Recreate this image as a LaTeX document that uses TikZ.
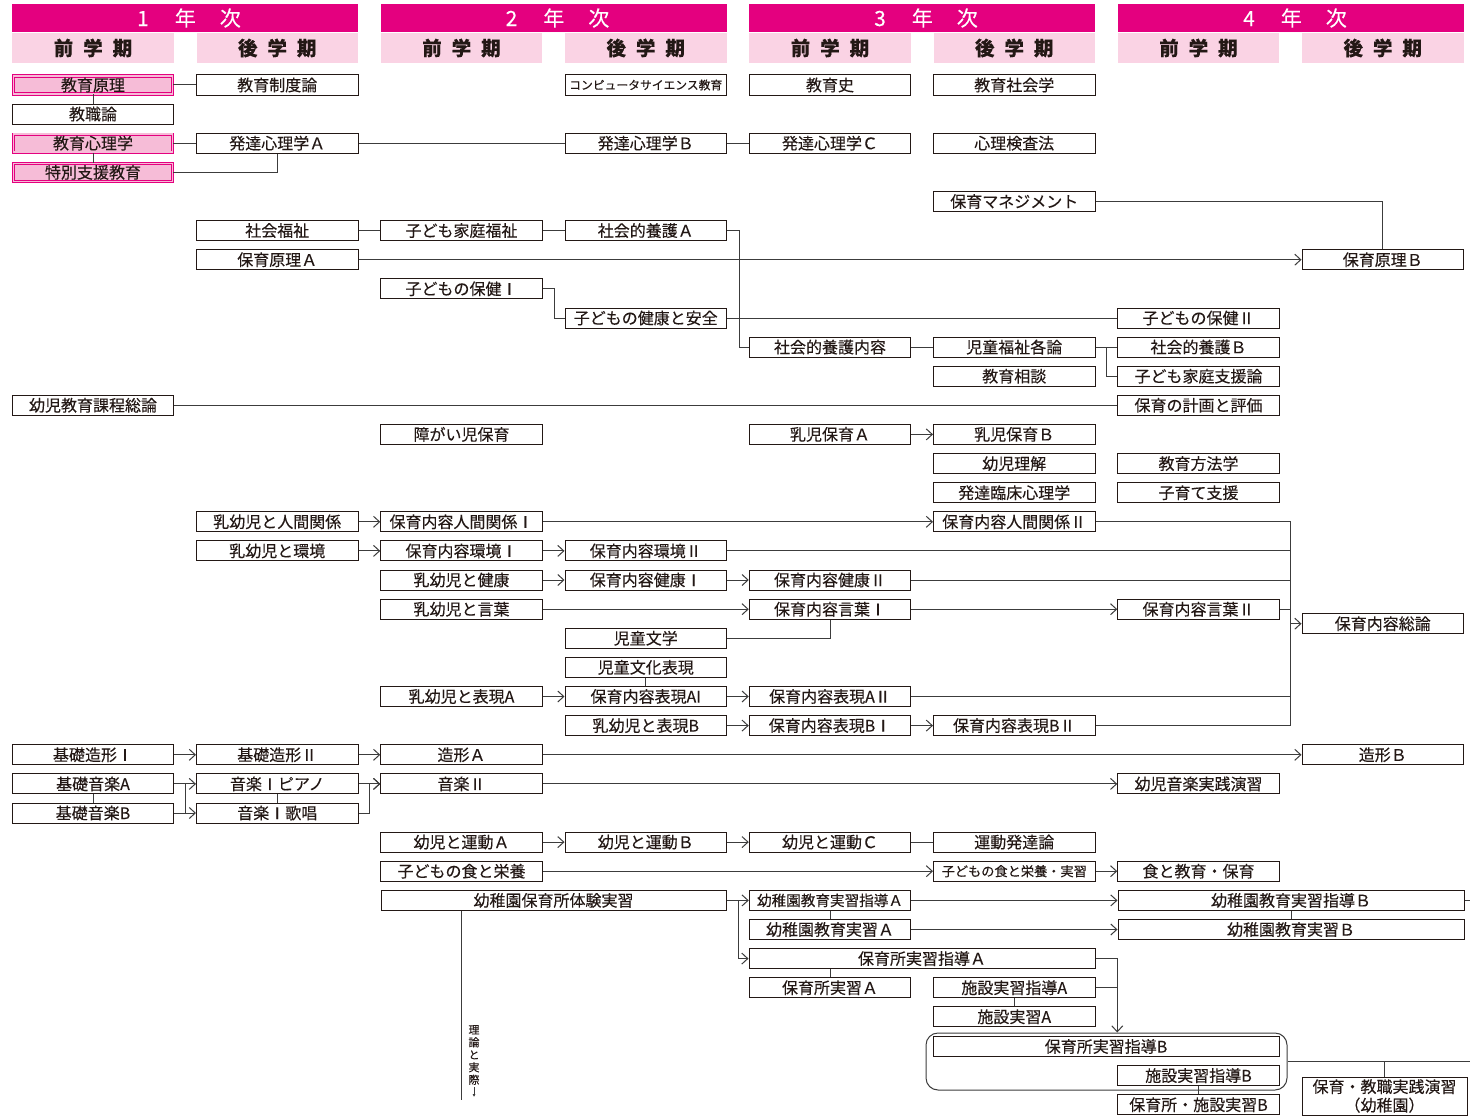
\documentclass[tikz,border=0pt]{standalone}
\usepackage{fontspec}
\setmainfont{Noto Sans CJK JP}[FakeBold=0.2]
\usetikzlibrary{arrows.meta}
\definecolor{mag}{HTML}{E4007F}
\definecolor{lpink}{HTML}{FAD3E4}
\definecolor{bpink}{HTML}{F6BCD7}
\definecolor{ink}{HTML}{231815}
\definecolor{ln}{HTML}{3C3C3C}
\begin{document}
\begin{tikzpicture}[x=1pt,y=-1pt,
  box/.style={draw=ink, line width=1pt, fill=white, minimum width=161.5pt, minimum height=20pt, inner sep=0pt, font=\fontsize{16}{16}\selectfont, text=ink},
  wbox/.style={box, minimum width=#1},
  pbox/.style={box, draw=mag, fill=bpink, double=bpink, double distance=1.6pt, line width=0.8pt, minimum width=159pt, minimum height=18pt},
  cn/.style={draw=ln, line width=1pt},
  ar/.style={cn, -{Straight Barb[length=6pt,width=11pt]}},
  yearbar/.style={fill=mag, minimum width=346pt, minimum height=28pt, inner sep=0pt, text=white, font=\fontsize{21}{22}\selectfont},
  sembar/.style={fill=lpink, minimum width=161.5pt, minimum height=30pt, inner sep=0pt, text=ink, font=\fontsize{19.5}{20}\selectfont\bfseries}
]
\useasboundingbox (0,0) rectangle (1470,1116);
\fill[white] (0,0) rectangle (1470,1116);

% headers
\node[yearbar] (y1) at (185,18) {\hskip 8pt 1\hskip 26pt 年\hskip 24pt 次};
\node[yearbar] (y2) at (553.5,18) {\hskip 8pt 2\hskip 26pt 年\hskip 24pt 次};
\node[yearbar] (y3) at (922,18) {\hskip 8pt 3\hskip 26pt 年\hskip 24pt 次};
\node[yearbar] (y4) at (1291,18) {\hskip 8pt 4\hskip 26pt 年\hskip 24pt 次};
\node[sembar] (s1) at (93,48) {前\hskip 10pt 学\hskip 10pt 期};
\node[sembar] (s2) at (277.25,48) {後\hskip 10pt 学\hskip 10pt 期};
\node[sembar] (s3) at (461.5,48) {前\hskip 10pt 学\hskip 10pt 期};
\node[sembar] (s4) at (645.75,48) {後\hskip 10pt 学\hskip 10pt 期};
\node[sembar] (s5) at (830,48) {前\hskip 10pt 学\hskip 10pt 期};
\node[sembar] (s6) at (1014.25,48) {後\hskip 10pt 学\hskip 10pt 期};
\node[sembar] (s7) at (1198.5,48) {前\hskip 10pt 学\hskip 10pt 期};
\node[sembar] (s8) at (1382.75,48) {後\hskip 10pt 学\hskip 10pt 期};

% rounded group
\node[draw=ln, line width=1pt, rounded corners=12pt, minimum width=361pt, minimum height=57pt, inner sep=0pt] (grp) at (1106.5,1061.5) {};

% boxes
\node[pbox] (kgenri) at (93,85) {教育原理};
\node[box] (seido) at (277.25,85) {教育制度論};
\node[box] (cs) at (645.75,85) {\fontsize{11.8}{12}\selectfont コンピュータサイエンス教育};
\node[box] (kshi) at (830,85) {教育史};
\node[box] (kshakai) at (1014.25,85) {教育社会学};

\node[box] (kyoshoku) at (93,114.1) {教職論};

\node[pbox] (kshinri) at (93,143.2) {教育心理学};
\node[box] (hatA) at (277.25,143.2) {発達心理学Ａ};
\node[box] (hatB) at (645.75,143.2) {発達心理学Ｂ};
\node[box] (hatC) at (830,143.2) {発達心理学Ｃ};
\node[box] (kensa) at (1014.25,143.2) {心理検査法};

\node[pbox] (tokubetsu) at (93,172.4) {特別支援教育};
\node[box] (mgmt) at (1014.25,201.5) {保育マネジメント};

\node[box] (fukushi) at (277.25,230.6) {社会福祉};
\node[box] (kodomokatei) at (461.5,230.6) {子ども家庭福祉};
\node[box] (yogoA) at (645.75,230.6) {社会的養護Ａ};

\node[box] (genriA) at (277.25,259.7) {保育原理Ａ};
\node[box] (genriB) at (1382.75,259.7) {保育原理Ｂ};

\node[box] (hokenI) at (461.5,288.8) {子どもの保健Ⅰ};
\node[box] (anzen) at (645.75,318) {子どもの健康と安全};
\node[box] (hokenII) at (1198.5,318) {子どもの保健Ⅱ};

\node[box] (yogoN) at (830,347.1) {社会的養護内容};
\node[box] (kakuron) at (1014.25,347.1) {児童福祉各論};
\node[box] (yogoB) at (1198.5,347.1) {社会的養護Ｂ};

\node[box] (soudan) at (1014.25,376.2) {教育相談};
\node[box] (shien) at (1198.5,376.2) {子ども家庭支援論};

\node[box] (katei) at (93,405.3) {幼児教育課程総論};
\node[box] (keikaku) at (1198.5,405.3) {保育の計画と評価};

\node[box] (shogai) at (461.5,434.4) {障がい児保育};
\node[box] (nyujiA) at (830,434.4) {乳児保育Ａ};
\node[box] (nyujiB) at (1014.25,434.4) {乳児保育Ｂ};

\node[box] (rikai) at (1014.25,463.6) {幼児理解};
\node[box] (houhou) at (1198.5,463.6) {教育方法学};
\node[box] (rinsho) at (1014.25,492.7) {発達臨床心理学};
\node[box] (kosodate) at (1198.5,492.7) {子育て支援};

\node[box] (nyuNin) at (277.25,521.8) {乳幼児と人間関係};
\node[box] (ninI) at (461.5,521.8) {保育内容人間関係Ⅰ};
\node[box] (ninII) at (1014.25,521.8) {保育内容人間関係Ⅱ};

\node[box] (nyuKan) at (277.25,550.9) {乳幼児と環境};
\node[box] (kanI) at (461.5,550.9) {保育内容環境Ⅰ};
\node[box] (kanII) at (645.75,550.9) {保育内容環境Ⅱ};

\node[box] (nyuKen) at (461.5,580) {乳幼児と健康};
\node[box] (kenI) at (645.75,580) {保育内容健康Ⅰ};
\node[box] (kenII) at (830,580) {保育内容健康Ⅱ};

\node[box] (nyuKot) at (461.5,609.2) {乳幼児と言葉};
\node[box] (kotI) at (830,609.2) {保育内容言葉Ⅰ};
\node[box] (kotII) at (1198.5,609.2) {保育内容言葉Ⅱ};
\node[box] (souron) at (1382.75,623.7) {保育内容総論};

\node[box] (bungaku) at (645.75,638.3) {児童文学};
\node[box] (bunka) at (645.75,667.4) {児童文化表現};

\node[box] (nyuHyoA) at (461.5,696.5) {乳幼児と表現A};
\node[box] (hyoAI) at (645.75,696.5) {保育内容表現AI};
\node[box] (hyoAII) at (830,696.5) {保育内容表現AⅡ};

\node[box] (nyuHyoB) at (645.75,725.6) {乳幼児と表現B};
\node[box] (hyoBI) at (830,725.6) {保育内容表現BⅠ};
\node[box] (hyoBII) at (1014.25,725.6) {保育内容表現BⅡ};

\node[box] (zokeiI) at (93,754.8) {基礎造形Ⅰ};
\node[box] (zokeiII) at (277.25,754.8) {基礎造形Ⅱ};
\node[box] (zokeiA) at (461.5,754.8) {造形Ａ};
\node[box] (zokeiB) at (1382.75,754.8) {造形Ｂ};

\node[box] (onA) at (93,783.9) {基礎音楽A};
\node[box] (piano) at (277.25,783.9) {音楽Ⅰピアノ};
\node[box] (onII) at (461.5,783.9) {音楽Ⅱ};
\node[box] (jissenOn) at (1198.5,783.9) {幼児音楽実践演習};

\node[box] (onB) at (93,813) {基礎音楽B};
\node[box] (kashou) at (277.25,813) {音楽Ⅰ歌唱};

\node[box] (undoA) at (461.5,842.1) {幼児と運動Ａ};
\node[box] (undoB) at (645.75,842.1) {幼児と運動Ｂ};
\node[box] (undoC) at (830,842.1) {幼児と運動Ｃ};
\node[box] (undoH) at (1014.25,842.1) {運動発達論};

\node[box] (shoku) at (461.5,871.2) {子どもの食と栄養};
\node[box] (shokuJ) at (1014.25,871.2) {\fontsize{13.2}{13}\selectfont 子どもの食と栄養・実習};
\node[box] (shokuK) at (1198.5,871.2) {食と教育・保育};

\node[wbox=345pt] (taiken) at (553.5,900.4) {幼稚園保育所体験実習};
\node[box] (kshidouA) at (830,900.4) {\fontsize{14.6}{15}\selectfont 幼稚園教育実習指導Ａ};
\node[wbox=346pt] (kshidouB) at (1291,900.4) {幼稚園教育実習指導Ｂ};

\node[box] (kjisshuA) at (830,929.5) {幼稚園教育実習Ａ};
\node[wbox=346pt] (kjisshuB) at (1291,929.5) {幼稚園教育実習Ｂ};

\node[wbox=346pt] (hshidouA) at (922,958.6) {保育所実習指導Ａ};
\node[box] (hjisshuA) at (830,987.7) {保育所実習Ａ};
\node[box] (sshidouA) at (1014.25,987.7) {施設実習指導A};
\node[box] (sjisshuA) at (1014.25,1016.8) {施設実習A};

\node[wbox=346pt] (hshidouB) at (1106,1046.5) {保育所実習指導B};
\node[box] (sshidouB) at (1198.5,1075.6) {施設実習指導B};
\node[box] (hsjisshuB) at (1198.5,1104.7) {保育所・施設実習B};
\node[box, minimum width=165pt, minimum height=38pt, align=center, font=\fontsize{16}{18.5}\selectfont] (jissen) at (1384.5,1096) {保育・教職実践演習\\（幼稚園）};

\node[inner sep=0pt, align=center, text=ink, font=\fontsize{11}{12.5}\selectfont] (riron) at (474,1055) {理\\論\\と\\実\\際};

% connectors
\draw[cn] (kgenri.east) -- (seido.west);
\draw[cn] (kgenri.south) -- (kyoshoku.north);
\draw[cn] (kshinri.east) -- (hatA.west);
\draw[cn] (kshinri.south) -- (tokubetsu.north);
\draw[cn] (tokubetsu.east) -| (hatA.south);
\draw[cn] (hatA.east) -- (hatB.west);
\draw[cn] (hatB.east) -- (hatC.west);
\draw[cn] (mgmt.east) -| (genriB.north);
\draw[cn] (fukushi.east) -- (kodomokatei.west);
\draw[cn] (kodomokatei.east) -- (yogoA.west);
\draw[cn] (yogoA.east) -- ++(12,0) |- (yogoN.west);
\draw[ar] (genriA.east) -- (genriB.west);
\draw[cn] (hokenI.east) -- ++(12,0) |- (anzen.west);
\draw[cn] (anzen.east) -- (hokenII.west);
\draw[cn] (yogoN.east) -- (kakuron.west);
\draw[cn] (kakuron.east) -- (yogoB.west);
\draw[cn] (kakuron.east) -- ++(11,0) |- (shien.west);
\draw[cn] (katei.east) -- (keikaku.west);
\draw[ar] (nyujiA.east) -- (nyujiB.west);

\draw[ar] (nyuNin.east) -- (ninI.west);
\draw[ar] (ninI.east) -- (ninII.west);
\draw[ar] (nyuKan.east) -- (kanI.west);
\draw[ar] (kanI.east) -- (kanII.west);
\draw[ar] (nyuKen.east) -- (kenI.west);
\draw[ar] (kenI.east) -- (kenII.west);
\draw[ar] (nyuKot.east) -- (kotI.west);
\draw[ar] (kotI.east) -- (kotII.west);
\draw[cn] (bungaku.east) -| (kotI.south);
\draw[cn] (bunka.south) -- (hyoAI.north);
\draw[ar] (nyuHyoA.east) -- (hyoAI.west);
\draw[ar] (hyoAI.east) -- (hyoAII.west);
\draw[ar] (nyuHyoB.east) -- (hyoBI.west);
\draw[ar] (hyoBI.east) -- (hyoBII.west);

\coordinate (busT) at (1290.5,521.8);
\coordinate (busB) at (1290.5,725.6);
\draw[cn] (ninII.east) -- (busT) -- (busB) -- (hyoBII.east);
\draw[cn] (kanII.east) -- (kanII.east -| busT);
\draw[cn] (kenII.east) -- (kenII.east -| busT);
\draw[cn] (kotII.east) -- (kotII.east -| busT);
\draw[cn] (hyoAII.east) -- (hyoAII.east -| busT);
\draw[ar] (souron.west -| busT) -- (souron.west);

\draw[ar] (zokeiI.east) -- (zokeiII.west);
\draw[ar] (zokeiII.east) -- (zokeiA.west);
\draw[ar] (zokeiA.east) -- (zokeiB.west);
\draw[cn] (onA.south) -- (onB.north);
\draw[ar] (onA.east) -- (piano.west);
\draw[ar] (onB.east) -- (kashou.west);
\draw[cn] (onA.east) ++(11,0) -- ++(0,29.1);
\draw[cn] (piano.south) -- (kashou.north);
\draw[ar] (piano.east) -- (onII.west);
\draw[ar] (kashou.east) -- ++(11,0) |- (onII.west);
\draw[ar] (onII.east) -- (jissenOn.west);

\draw[ar] (undoA.east) -- (undoB.west);
\draw[ar] (undoB.east) -- (undoC.west);
\draw[cn] (undoC.east) -- (undoH.west);
\draw[ar] (shoku.east) -- (shokuJ.west);
\draw[ar] (shokuJ.east) -- (shokuK.west);

\draw[ar] (taiken.east) -- (kshidouA.west);
\draw[ar] (taiken.east) -- ++(12,0) |- (hshidouA.west);
\draw[cn] (kshidouA.south) -- (kjisshuA.north);
\draw[ar] (kshidouA.east) -- (kshidouB.west);
\draw[ar] (kjisshuA.east) -- (kjisshuB.west);
\draw[cn] (kshidouB.south) -- (kjisshuB.north);
\coordinate (edgeA) at (1470,900.4);
\draw[cn] (kshidouB.east) -- (edgeA);
\draw[cn] (hshidouA.south -| hjisshuA.north) -- (hjisshuA.north);
\draw[cn] (sshidouA.south) -- (sjisshuA.north);
\draw[ar] (hshidouA.east) -| (grp.north -| shien.west);
\draw[cn] (sshidouA.east) -- (sshidouA.east -| shien.west);
\draw[cn] (sshidouB.south) -- (hsjisshuB.north);
\coordinate (edgeB) at (1470,1061.5);
\draw[cn] (grp.east) -- (edgeB);
\draw[cn] (grp.east -| jissen.north) -- (jissen.north);

\coordinate (rend) at (461.5,1100);
\draw[cn] (taiken.south -| shoku.south) -- (rend);
\draw[cn, line width=0.6pt, -{Latex[length=3pt,width=3pt]}] (riron.south) ++(0,2) -- ++(0,10);
\end{tikzpicture}
\end{document}
